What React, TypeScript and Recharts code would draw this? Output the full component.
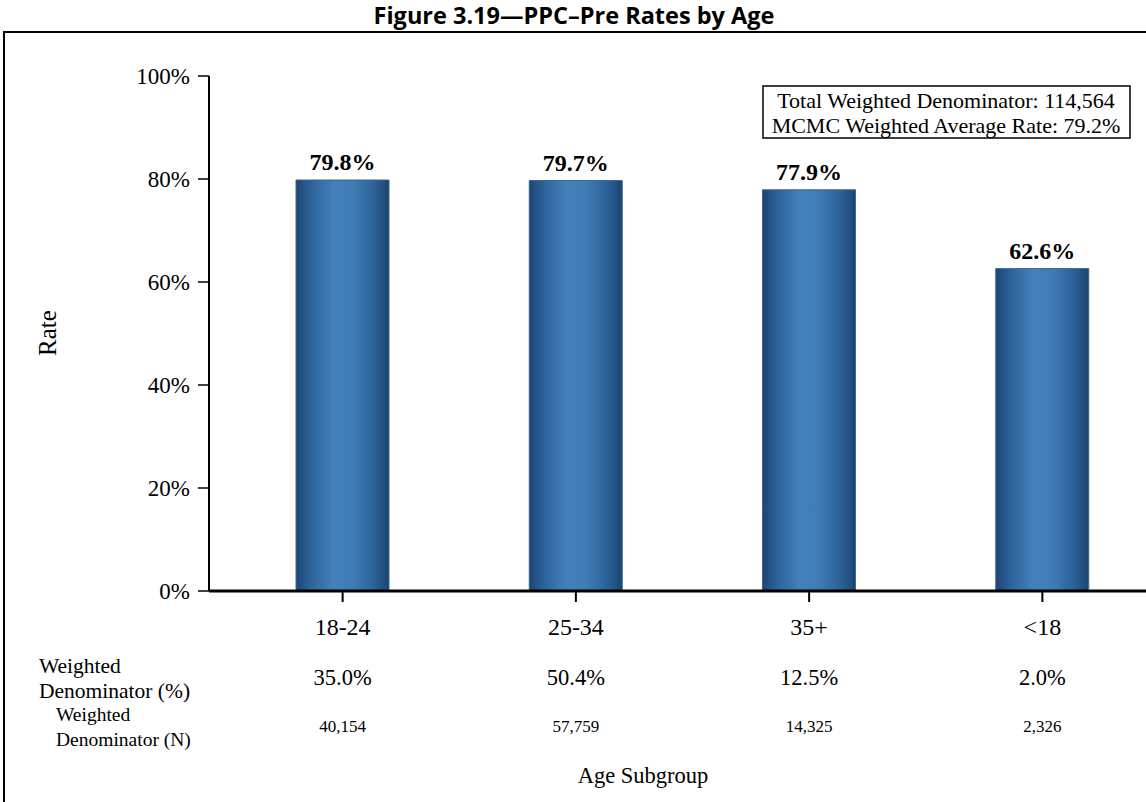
import { BarChart, Bar, XAxis, YAxis, LabelList } from "recharts"

const AGE_GROUPS = ["18-24", "25-34", "35+", "<18"]
const RATES = [79.8, 79.7, 77.9, 62.6]
const DENOM_PCT = [35.0, 50.4, 12.5, 2.0]
const DENOM_N = [40154, 57759, 14325, 2326]
const Y_TICKS = [0, 20, 40, 60, 80, 100]

const TOTAL_DENOM = 114564
const AVG_RATE = 79.2

const SERIF = "'Liberation Serif', 'Times New Roman', serif"

const data = AGE_GROUPS.map((g, i) => ({
  group: g,
  rate: RATES[i],
  pct: DENOM_PCT[i],
  n: DENOM_N[i],
}))

// category label plus the two weighted-denominator rows underneath it
const AgeTick = ({ x, y, payload }: any) => {
  const i = payload.index
  return (
    <g fontFamily={SERIF} fill="#000" textAnchor="middle">
      <text x={x} y={y + 23} fontSize={24} dominantBaseline="central">{payload.value}</text>
      <text x={x} y={y + 73} fontSize={22.5} dominantBaseline="central">
        {DENOM_PCT[i].toFixed(1)}%
      </text>
      <text x={x} y={y + 122} fontSize={17} dominantBaseline="central">
        {DENOM_N[i].toLocaleString("en-US")}
      </text>
    </g>
  )
}

export default function App() {
  return (
    <div style={{ position: "absolute", left: 0, top: 0, width: 1146, height: 802, overflow: "hidden", background: "#fff" }}>
      <BarChart
        width={1160}
        height={802}
        data={data}
        margin={{ top: 76, right: 1, bottom: 0, left: 149 }}
        barSize={93}
      >
        <defs>
          <linearGradient id="barFill" x1="0" y1="0" x2="1" y2="0">
            <stop offset="0%" stopColor="#1b4572" />
            <stop offset="15%" stopColor="#2c6298" />
            <stop offset="40%" stopColor="#4480bb" />
            <stop offset="62%" stopColor="#3f7bb5" />
            <stop offset="85%" stopColor="#2b6095" />
            <stop offset="100%" stopColor="#1a446f" />
          </linearGradient>
        </defs>
        <XAxis
          dataKey="group"
          height={211}
          padding={{ left: 17, right: 0 }}
          axisLine={{ stroke: "#000", strokeWidth: 3 }}
          tickLine={{ stroke: "#000", strokeWidth: 2 }}
          tickSize={11}
          tickMargin={2}
          tick={<AgeTick />}
          interval={0}
        />
        <YAxis
          width={60}
          domain={[0, 100]}
          ticks={Y_TICKS}
          tickFormatter={v => `${v}%`}
          axisLine={{ stroke: "#000", strokeWidth: 2 }}
          tickLine={{ stroke: "#000", strokeWidth: 1.5 }}
          tickSize={11}
          tickMargin={8}
          tick={{ fontFamily: SERIF, fontSize: 23, fill: "#000" }}
        />
        <Bar dataKey="rate" fill="url(#barFill)" stroke="#3d6690" strokeWidth={1} isAnimationActive={false}>
          <LabelList
            dataKey="rate"
            position="top"
            offset={10}
            formatter={(v: any) => `${Number(v).toFixed(1)}%`}
            style={{ fontFamily: SERIF, fontSize: 24, fontWeight: "bold", fill: "#000" }}
          />
        </Bar>
      </BarChart>

      <svg width={1146} height={802} style={{ position: "absolute", left: 0, top: 0, pointerEvents: "none" }}>
        <text x={574} y={15} textAnchor="middle" dominantBaseline="central"
          fontFamily="'Open Sans', 'Liberation Sans', sans-serif" fontWeight="bold" fontSize={23.5} fill="#000">
          Figure 3.19—PPC–Pre Rates by Age
        </text>
        {/* outer frame */}
        <path d="M4,802 L4,32 L1146,32" fill="none" stroke="#000" strokeWidth={2} />

        <text x={47} y={333} transform="rotate(-90 47 333)" textAnchor="middle" dominantBaseline="central"
          fontFamily={SERIF} fontSize={25} fill="#000">Rate</text>

        <g fontFamily={SERIF} fill="#000">
          <text x={39} y={666} fontSize={21.5} dominantBaseline="central">Weighted</text>
          <text x={39} y={691} fontSize={21.5} dominantBaseline="central">Denominator (%)</text>
          <text x={56} y={714} fontSize={19.5} dominantBaseline="central">Weighted</text>
          <text x={56} y={739} fontSize={19.5} dominantBaseline="central">Denominator (N)</text>
        </g>

        <text x={643} y={775} textAnchor="middle" dominantBaseline="central"
          fontFamily={SERIF} fontSize={22.5} fill="#000">Age Subgroup</text>

        {/* summary box */}
        <rect x={763} y={86} width={367} height={52} fill="#fff" stroke="#000" strokeWidth={1.5} />
        <g fontFamily={SERIF} fontSize={22} fill="#000" textAnchor="middle">
          <text x={946} y={100} dominantBaseline="central">
            Total Weighted Denominator: {TOTAL_DENOM.toLocaleString("en-US")}
          </text>
          <text x={946} y={125} dominantBaseline="central">
            MCMC Weighted Average Rate: {AVG_RATE.toFixed(1)}%
          </text>
        </g>
      </svg>
    </div>
  )
}
